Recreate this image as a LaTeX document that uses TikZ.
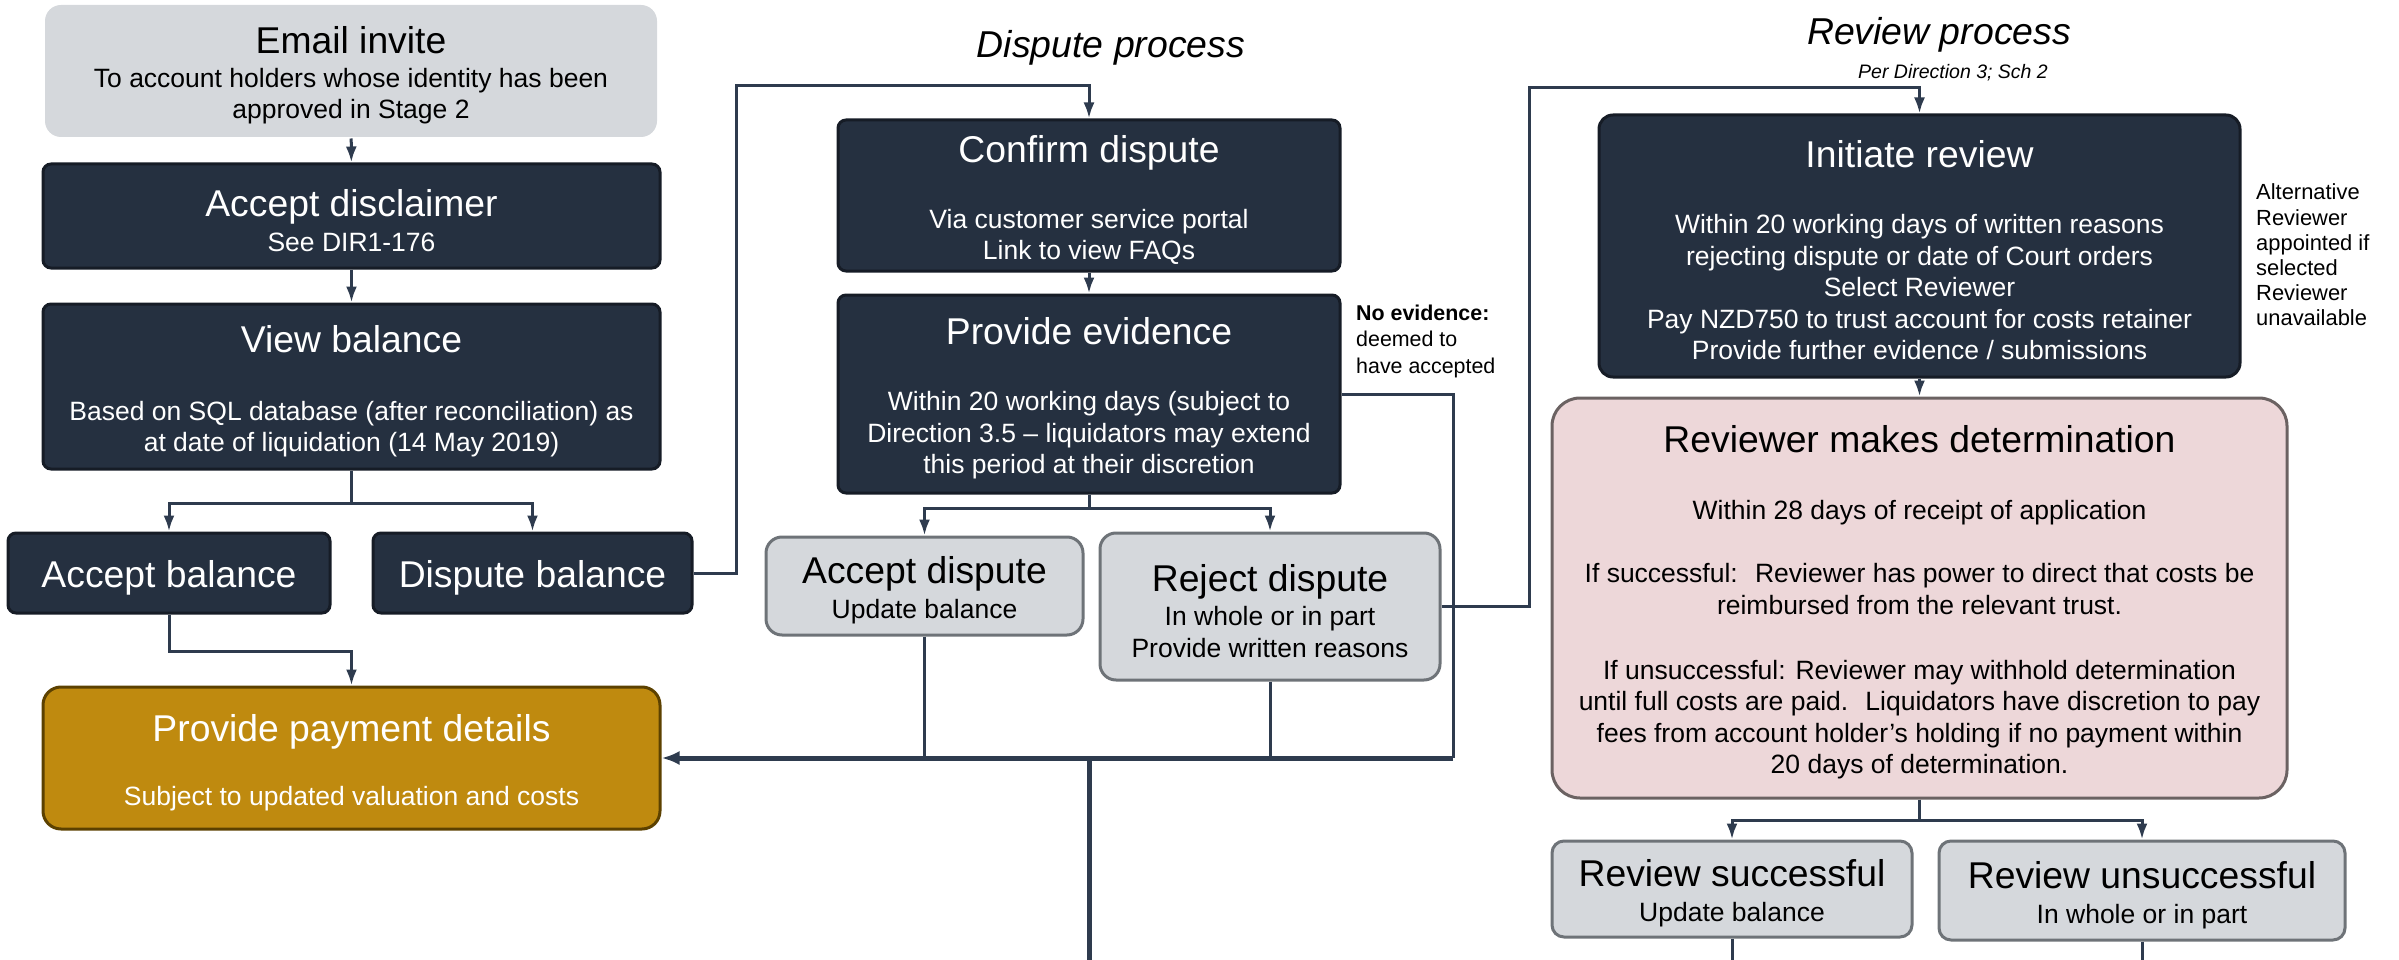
\documentclass[tikz,border=0pt]{standalone}
\usepackage{fontspec}
\setmainfont{Liberation Sans}
\usepackage{tikz}
\usetikzlibrary{arrows.meta}
\usetikzlibrary{positioning}

\definecolor{navy}{HTML}{253040}
\definecolor{navyedge}{HTML}{161C26}
\definecolor{linkcol}{HTML}{2E3B4E}
\definecolor{lightgrey}{HTML}{D5D8DC}
\definecolor{greyedge}{HTML}{6E7378}
\definecolor{paygold}{HTML}{BF8A0F}
\definecolor{goldedge}{HTML}{5C4100}
\definecolor{detpink}{HTML}{EDD7D9}
\definecolor{pinkedge}{HTML}{6B6262}

\newcommand{\boxtitle}[1]{{\fontsize{37.3}{42}\selectfont\rule[-8pt]{0pt}{44pt}#1}}

\begin{document}
\begin{tikzpicture}[x=1pt, y=-1pt,
	every node/.style={inner sep=0pt, align=center, font=\fontsize{26.5}{31.5}\selectfont},
	darkbox/.style={rectangle, rounded corners=8pt, draw=navyedge, line width=3pt, fill=navy, text=white},
	greybox/.style={rectangle, rounded corners=16pt, draw=greyedge, line width=3pt, fill=lightgrey},
	goldbox/.style={rectangle, rounded corners=18pt, draw=goldedge, line width=3pt, fill=paygold, text=white},
	pinkbox/.style={rectangle, rounded corners=28pt, draw=pinkedge, line width=3pt, fill=detpink},
	heading/.style={font=\fontsize{37.4}{42}\selectfont\itshape},
	link/.style={draw=linkcol, line width=3pt},
	arr/.style={link, -{Latex[length=16pt, width=11pt]}},
	bus/.style={draw=linkcol, line width=5pt}]
		
		\useasboundingbox (0,0) rectangle (2399,960);
		
		\node[greybox, draw=none, minimum width=612, minimum height=132] at (351,71) (invite) {\boxtitle{Email invite}\\[2pt] To account holders whose identity has been\\ approved in Stage 2};
		\node[darkbox, minimum width=617, minimum height=104] at (351.5,216) (disclaimer) {\boxtitle{Accept disclaimer}\\[3.5pt] See DIR1-176};
		\node[darkbox, minimum width=617, minimum height=165] at (351.5,386.5) (view) {\boxtitle{View balance}\\[36.5pt] Based on SQL database (after reconciliation) as\\ at date of liquidation (14 May 2019)};
		\node[darkbox, minimum width=322, minimum height=80] at (169,573) (accept) {\boxtitle{Accept balance}};
		\node[darkbox, minimum width=319, minimum height=80] at (532.5,573) (dispute) {\boxtitle{Dispute balance}};
		\node[goldbox, minimum width=617, minimum height=142] at (351.5,758) (payment) {\boxtitle{Provide payment details}\\[32.5pt] Subject to updated valuation and costs};
		
		\node[heading] at (1111,48) (disputehead) {Dispute process};
		\node[darkbox, minimum width=502, minimum height=151] at (1089,195.5) (confirm) {\boxtitle{Confirm dispute}\\[34.5pt] Via customer service portal\\ Link to view FAQs};
		\node[darkbox, minimum width=502, minimum height=198] at (1089,394) (evidence) {\boxtitle{Provide evidence}\\[34.5pt] Within 20 working days (subject to\\ Direction 3.5 -- liquidators may extend\\ this period at their discretion};
		\node[font=\fontsize{21.4}{26.5}\selectfont, align=left, anchor=west] at (1356,341) (noevid) {\textbf{No evidence:}\\ deemed to\\ have accepted};
		\node[greybox, minimum width=317, minimum height=98] at (924.5,586) (acceptd) {\boxtitle{Accept dispute}\\[3.5pt] Update balance};
		\node[greybox, minimum width=340, minimum height=147] at (1270,606.5) (rejectd) {\boxtitle{Reject dispute}\\[2.5pt] In whole or in part\\ Provide written reasons};
		
		\node[heading] at (1939,35) (reviewhead) {Review process};
		\node[font=\fontsize{19.5}{24}\selectfont\itshape] at (1953,73) (reviewref) {Per Direction 3; Sch 2};
		\node[darkbox, rounded corners=14pt, minimum width=641, minimum height=262] at (1919.5,246) (initiate) {\boxtitle{Initiate review}\\[34.5pt] Within 20 working days of written reasons\\ rejecting dispute or date of Court orders\\ Select Reviewer\\ Pay NZD750 to trust account for costs retainer\\ Provide further evidence / submissions};
		\node[font=\fontsize{21.9}{25.2}\selectfont, align=left, anchor=west] at (2256,255) (altrev) {Alternative\\ Reviewer\\ appointed if\\ selected\\ Reviewer\\ unavailable};
		\node[pinkbox, minimum width=735, minimum height=400] at (1919.5,598) (determine) {\boxtitle{Reviewer makes determination}\\[35pt] Within 28 days of receipt of application\\[32pt] If successful:~ Reviewer has power to direct that costs be\\ reimbursed from the relevant trust.\\[33.5pt] If unsuccessful: Reviewer may withhold determination\\ until full costs are paid.~ Liquidators have discretion to pay\\ fees from account holder’s holding if no payment within\\ 20 days of determination.};
		\node[greybox, rounded corners=12pt, minimum width=360, minimum height=96] at (1732,889) (revok) {\boxtitle{Review successful}\\[3.5pt] Update balance};
		\node[greybox, rounded corners=12pt, minimum width=406, minimum height=99] at (2142,890.5) (revfail) {\boxtitle{Review unsuccessful}\\[3.5pt] In whole or in part};
		
		\coordinate (merge) at (1453,758);
		\coordinate (bottom) at (1089,962);
		
		\path
		(invite) edge[arr] (disclaimer)
		(disclaimer) edge[arr] (view)
		(confirm) edge[arr] (evidence)
		(initiate) edge[arr] (determine)
		;
		
		\draw[arr] (view.south) -- ++(0,33) -| (accept.north);
		\draw[arr] (view.south) -- ++(0,33) -| (dispute.north);
		\draw[arr] (accept.south) -- ++(0,37) -| (payment.north);
		\draw[arr] (dispute.east) -- ++(43,0) |- ([yshift=33pt]confirm.north) -- (confirm.north);
		\draw[arr] (evidence.south) -- ++(0,14) -| (acceptd.north);
		\draw[arr] (evidence.south) -- ++(0,14) -| (rejectd.north);
		\draw[link] (evidence.east) -| (merge);
		\draw[link] (acceptd.south) -- (acceptd.south |- merge);
		\draw[link] (rejectd.south) -- (rejectd.south |- merge);
		\draw[bus, -{Latex[length=18pt, width=14pt]}] (merge) -- (payment.east);
		\draw[bus] (bottom |- merge) -- (bottom);
		\draw[arr] (rejectd.east) -- ++(88,0) |- ([yshift=26pt]initiate.north) -- (initiate.north);
		\draw[arr] (determine.south) -- ++(0,21) -| (revok.north);
		\draw[arr] (determine.south) -- ++(0,21) -| (revfail.north);
		\draw[link] (revok.south) -- (revok.south |- bottom);
		\draw[link] (revfail.south) -- (revfail.south |- bottom);
		
\end{tikzpicture}
\end{document}
